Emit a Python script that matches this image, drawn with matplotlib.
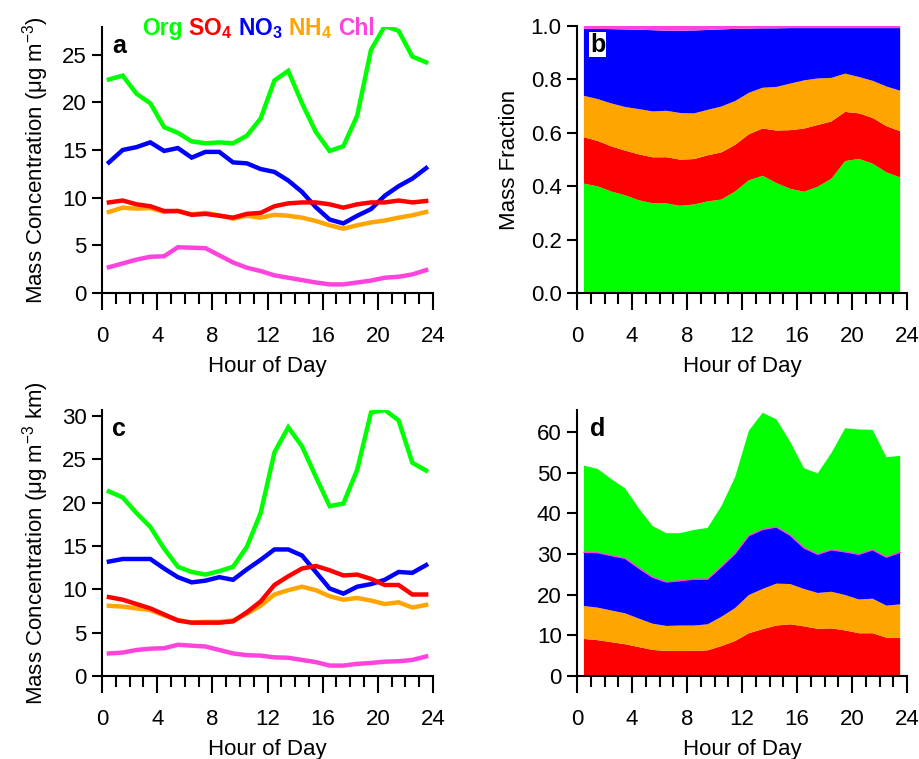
import numpy as np
import matplotlib
matplotlib.use("Agg")
import matplotlib.pyplot as plt

plt.rcParams['font.family'] = ['Liberation Sans', 'DejaVu Sans']
plt.rcParams['mathtext.fontset'] = 'custom'
plt.rcParams['mathtext.rm'] = 'Liberation Sans'
plt.rcParams['mathtext.bf'] = 'Liberation Sans:bold'

hours = np.arange(24) + 0.5

# panel a: ground level mass concentration (ug m-3)
org_a = [22.4, 22.8, 20.9, 19.9, 17.4, 16.8, 15.9, 15.7, 15.8, 15.7, 16.5, 18.3,
         22.3, 23.3, 19.9, 16.9, 14.9, 15.4, 18.6, 25.5, 28.0, 27.5, 24.8, 24.2]
so4_a = [9.5, 9.7, 9.3, 9.1, 8.6, 8.6, 8.2, 8.3, 8.1, 7.9, 8.3, 8.4,
         9.1, 9.4, 9.5, 9.5, 9.3, 8.95, 9.3, 9.5, 9.5, 9.7, 9.5, 9.65]
no3_a = [13.7, 15.0, 15.3, 15.8, 14.9, 15.2, 14.2, 14.8, 14.8, 13.7, 13.6, 13.0,
         12.7, 11.8, 10.6, 9.0, 7.7, 7.3, 8.1, 8.8, 10.2, 11.2, 12.0, 13.1]
nh4_a = [8.5, 8.95, 8.85, 8.9, 8.5, 8.6, 8.25, 8.4, 8.15, 7.8, 8.1, 7.9,
         8.2, 8.1, 7.9, 7.55, 7.1, 6.75, 7.1, 7.4, 7.6, 7.9, 8.15, 8.5]
chl_a = [2.7, 3.1, 3.5, 3.8, 3.85, 4.8, 4.75, 4.7, 3.95, 3.2, 2.65, 2.3,
         1.85, 1.6, 1.35, 1.1, 0.9, 0.9, 1.1, 1.3, 1.6, 1.7, 1.95, 2.4]

# panel b: chloride share at the top of the fraction stack
chl_frac_b = [0.011, 0.011, 0.012, 0.013, 0.014, 0.016, 0.018, 0.018, 0.017, 0.015, 0.013, 0.011,
              0.010, 0.009, 0.009, 0.008, 0.008, 0.008, 0.008, 0.008, 0.008, 0.008, 0.008, 0.008]

# panel c: column integrated mass concentration (ug m-3 km)
org_c = [21.3, 20.6, 18.8, 17.2, 14.7, 12.6, 12.0, 11.7, 12.1, 12.6, 14.9, 18.8,
         25.8, 28.7, 26.5, 23.0, 19.6, 19.9, 23.8, 30.4, 30.7, 29.5, 24.6, 23.7]
so4_c = [9.1, 8.8, 8.3, 7.8, 7.1, 6.4, 6.15, 6.15, 6.15, 6.3, 7.35, 8.6,
         10.5, 11.5, 12.4, 12.7, 12.2, 11.6, 11.7, 11.2, 10.5, 10.5, 9.4, 9.4]
no3_c = [13.2, 13.5, 13.5, 13.5, 12.4, 11.4, 10.8, 11.0, 11.4, 11.1, 12.3, 13.4,
         14.6, 14.6, 13.9, 12.0, 10.1, 9.5, 10.3, 10.6, 11.1, 12.0, 11.9, 12.8]
nh4_c = [8.1, 8.0, 7.8, 7.6, 7.0, 6.45, 6.15, 6.25, 6.25, 6.4, 7.2, 8.1,
         9.4, 9.9, 10.3, 9.9, 9.2, 8.8, 9.0, 8.7, 8.3, 8.5, 7.9, 8.2]
chl_c = [2.6, 2.7, 3.0, 3.15, 3.2, 3.6, 3.5, 3.4, 3.0, 2.6, 2.4, 2.35,
         2.15, 2.1, 1.85, 1.6, 1.2, 1.2, 1.4, 1.5, 1.65, 1.7, 1.85, 2.25]

C_ORG = '#00FF00'
C_SO4 = '#FF0000'
C_NO3 = '#0000FF'
C_NH4 = '#FFA500'
C_CHL = '#FF44DD'

TICK_FS = 16
LABEL_FS = 16


def style_axes(ax, ymax, yticks, yfmt=None):
    ax.set_xlim(0, 24)
    ax.set_ylim(0, ymax)
    ax.spines['top'].set_visible(False)
    ax.spines['right'].set_visible(False)
    ax.spines['left'].set_linewidth(1.5)
    ax.spines['bottom'].set_linewidth(1.5)
    ax.set_xticks(range(0, 25, 4))
    ax.set_xticks(range(0, 25), minor=True)
    ax.set_yticks(yticks)
    if yfmt:
        ax.set_yticklabels([yfmt % v for v in yticks])
    ax.tick_params(axis='x', which='major', direction='out', length=12, width=1.5,
                   labelsize=TICK_FS, pad=12)
    ax.tick_params(axis='x', which='minor', direction='out', length=8, width=1.5)
    ax.tick_params(axis='y', direction='out', length=7, width=1.5, labelsize=TICK_FS, pad=4)
    ax.set_xlabel('Hour of Day', fontsize=LABEL_FS, labelpad=6)


fig = plt.figure(figsize=(9.2, 7.59), dpi=100)

# a
ax = fig.add_axes([0.1109, 0.614, 0.3598, 0.3504])
for y, c in [(org_a, C_ORG), (no3_a, C_NO3), (nh4_a, C_NH4), (so4_a, C_SO4), (chl_a, C_CHL)]:
    ax.plot(hours, y, color=c, lw=3.2, solid_joinstyle='miter')
style_axes(ax, 27.9, [0, 5, 10, 15, 20, 25])
ax.set_ylabel('Mass Concentration (μg m$^{\\mathregular{-3}}$)', fontsize=LABEL_FS, labelpad=8)
ax.text(0.03, 0.975, 'a', transform=ax.transAxes, fontsize=18, fontweight='bold',
        va='top', ha='left')
x0 = 0.1543
for txt, c, dx in [('Org', C_ORG, 0.0), ('$\\mathbf{SO_4}$', C_SO4, 0.050),
                   ('$\\mathbf{NO_3}$', C_NO3, 0.1043), ('$\\mathbf{NH_4}$', C_NH4, 0.1587),
                   ('Chl', C_CHL, 0.213)]:
    fig.text(x0 + dx, 0.962, txt, color=c, fontsize=16.5, fontweight='bold', va='center', ha='left')

# b
tot = np.array(org_a) + np.array(so4_a) + np.array(nh4_a) + np.array(no3_a)
scale = (1 - np.array(chl_frac_b)) / tot
ax = fig.add_axes([0.6272, 0.614, 0.3587, 0.3518])
ax.stackplot(hours, np.array(org_a) * scale, np.array(so4_a) * scale,
             np.array(nh4_a) * scale, np.array(no3_a) * scale, chl_frac_b,
             colors=[C_ORG, C_SO4, C_NH4, C_NO3, C_CHL], linewidth=0)
style_axes(ax, 1.0, [0, 0.2, 0.4, 0.6, 0.8, 1.0], '%.1f')
ax.set_ylabel('Mass Fraction', fontsize=LABEL_FS, labelpad=8)
ax.text(0.04, 0.975, 'b', transform=ax.transAxes, fontsize=18, fontweight='bold',
        va='top', ha='left', bbox=dict(facecolor='white', edgecolor='none', pad=0.5))

# c
ax = fig.add_axes([0.1109, 0.1094, 0.3598, 0.3505])
for y, c in [(org_c, C_ORG), (no3_c, C_NO3), (nh4_c, C_NH4), (so4_c, C_SO4), (chl_c, C_CHL)]:
    ax.plot(hours, y, color=c, lw=3.2, solid_joinstyle='miter')
style_axes(ax, 30.7, [0, 5, 10, 15, 20, 25, 30])
ax.set_ylabel('Mass Concentration (μg m$^{\\mathregular{-3}}$ km)', fontsize=LABEL_FS, labelpad=8)
ax.text(0.03, 0.975, 'c', transform=ax.transAxes, fontsize=18, fontweight='bold',
        va='top', ha='left')

# d
ax = fig.add_axes([0.6272, 0.1094, 0.3587, 0.3505])
stack = np.cumsum([so4_c, nh4_c, no3_c], axis=0)
ax.stackplot(hours, so4_c, nh4_c, no3_c, org_c,
             colors=[C_SO4, C_NH4, C_NO3, C_ORG], linewidth=0)
ax.plot(hours, stack[2], color=C_CHL, lw=1)
style_axes(ax, 65.4, [0, 10, 20, 30, 40, 50, 60])
ax.text(0.04, 0.975, 'd', transform=ax.transAxes, fontsize=18, fontweight='bold',
        va='top', ha='left')

fig.savefig('out.png', dpi=100)
